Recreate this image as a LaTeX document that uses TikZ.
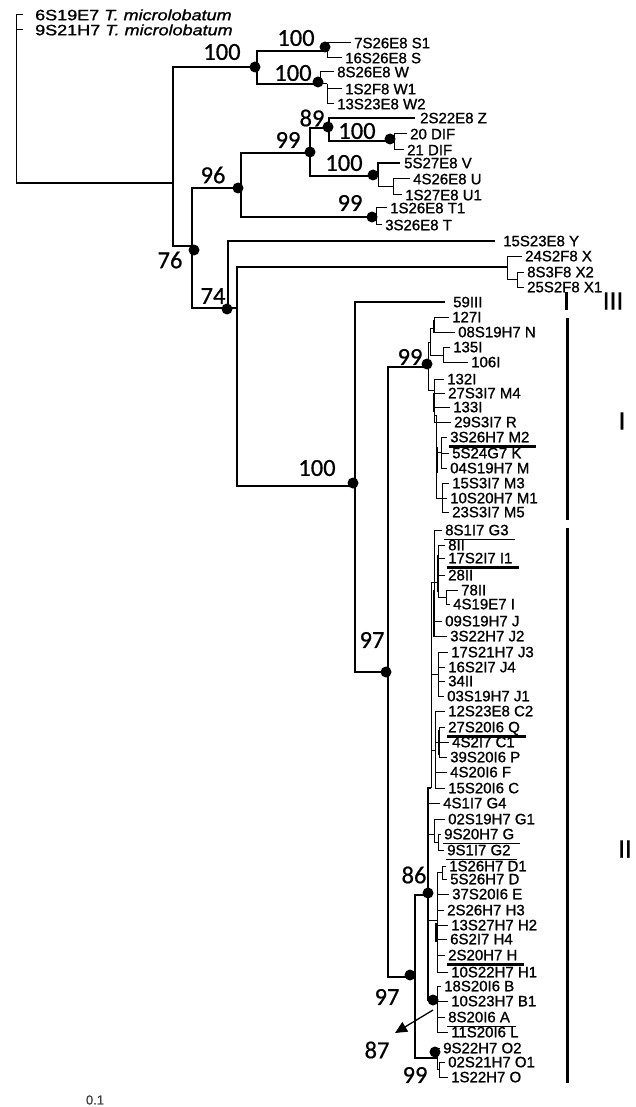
\documentclass[tikz,border=0pt]{standalone}
\usepackage{fontspec}
\setmainfont{Liberation Sans}
\newfontfamily\lffont[FakeBold=1.1]{Liberation Sans}
\newfontfamily\bsfont[FakeBold=0.6]{Carlito}
\usetikzlibrary{arrows.meta}
\newcommand\tkto[2]{\draw[tk] (#1) |- ([xshift=-3pt]#2.west);}
\newcommand\lfn[4]{\node[lf] (#1) at (#2,#3) {#4};}
\newcommand\ulin[2][ul]{\draw[#1] ([xshift=-1pt,yshift=-4pt]#2.south west) -- ([xshift=6pt,yshift=-4pt]#2.south east);}
\begin{document}
\begin{tikzpicture}[x=1pt,y=-1pt,
  br/.style={line width=1.5pt},
  tk/.style={line width=1pt},
  thk/.style={line width=2.4pt},
  dotn/.style={circle,fill=black,inner sep=0pt,minimum size=11pt},
  lf/.style={anchor=west,inner sep=0pt,text height=10.5pt,text depth=0pt,font=\lffont\fontsize{15}{15}\selectfont},
  bsl/.style={inner sep=0pt,font=\bsfont\fontsize{24.5}{24.5}\selectfont},
  cll/.style={inner sep=0pt,font=\bsfont\fontsize{27}{27}\selectfont},
  ul/.style={line width=1.5pt},
  ulk/.style={line width=2.3pt},
  ulf/.style={line width=1.1pt},
  bar/.style={line width=3pt},
]
\useasboundingbox (0,0) rectangle (636,1107);

% ---------- leaf labels ----------
\lfn{og1}{35}{15}{\scalebox{1.2}[1]{6S19E7 \textit{T. microlobatum}}}
\lfn{og2}{35}{30}{\scalebox{1.2}[1]{9S21H7 \textit{T. microlobatum}}}
\lfn{S1}{354}{43}{7S26E8 S1}
\lfn{S}{345}{58}{16S26E8 S}
\lfn{W}{337}{72}{8S26E8 W}
\lfn{W1}{345}{89}{1S2F8 W1}
\lfn{W2}{337}{104}{13S23E8 W2}
\lfn{Z}{420}{118}{2S22E8 Z}
\lfn{D20}{410}{134}{20 DIF}
\lfn{D21}{407}{150}{21 DIF}
\lfn{V}{404}{163}{5S27E8 V}
\lfn{U}{413}{179}{4S26E8 U}
\lfn{U1}{405}{195}{1S27E8 U1}
\lfn{T1}{390}{208}{1S26E8 T1}
\lfn{T}{385}{225}{3S26E8 T}
\lfn{Y}{503}{241}{15S23E8 Y}
\lfn{X}{525}{256}{24S2F8 X}
\lfn{X2}{527}{272}{8S3F8 X2}
\lfn{X1}{527}{287}{25S2F8 X1}
\lfn{L59}{453}{302}{59III}
\lfn{I127}{452}{317}{127I}
\lfn{N}{458}{332}{08S19H7 N}
\lfn{I135}{453}{347}{135I}
\lfn{I106}{471}{362}{106I}
\lfn{I132}{447}{379}{132I}
\lfn{M4}{448}{393}{27S3I7 M4}
\lfn{I133}{453}{407}{133I}
\lfn{R}{454}{422}{29S3I7 R}
\lfn{M2}{450}{437}{3S26H7 M2}
\lfn{K}{452}{453}{5S24G7 K}
\lfn{M}{450}{468}{04S19H7 M}
\lfn{M3}{452}{483}{15S3I7 M3}
\lfn{M1}{450}{498}{10S20H7 M1}
\lfn{M5}{452}{512}{23S3I7 M5}
\lfn{G3}{445}{530}{8S1I7 G3}
\lfn{II8}{448}{545}{8II}
\lfn{I1}{448}{558}{17S2I7 I1}
\lfn{II28}{448}{575}{28II}
\lfn{II78}{461}{590}{78II}
\lfn{Ii}{453}{604}{4S19E7 I}
\lfn{J}{445}{621}{09S19H7 J}
\lfn{J2}{450}{636}{3S22H7 J2}
\lfn{J3}{451}{652}{17S21H7 J3}
\lfn{J4}{448}{667}{16S2I7 J4}
\lfn{II34}{448}{681}{34II}
\lfn{J1}{447}{696}{03S19H7 J1}
\lfn{C2}{448}{711}{12S23E8 C2}
\lfn{Q}{448}{727}{27S20I6 Q}
\lfn{C1}{452}{742}{4S2I7 C1}
\lfn{P}{450}{757}{39S20I6 P}
\lfn{F}{450}{772}{4S20I6 F}
\lfn{C}{448}{788}{15S20I6 C}
\lfn{G4}{443}{803}{4S1I7 G4}
\lfn{G1}{448}{819}{02S19H7 G1}
\lfn{G}{444}{834}{9S20H7 G}
\lfn{G2}{447}{850}{9S1I7 G2}
\lfn{D1}{449}{866}{1S26H7 D1}
\lfn{D}{450}{879}{5S26H7 D}
\lfn{E}{452}{894}{37S20I6 E}
\lfn{H3}{447}{910}{2S26H7 H3}
\lfn{H2}{451}{925}{13S27H7 H2}
\lfn{H4}{450}{939}{6S2I7 H4}
\lfn{H}{448}{955}{2S20H7 H}
\lfn{H1}{451}{972}{10S22H7 H1}
\lfn{B}{444}{986}{18S20I6 B}
\lfn{B1}{451}{1001}{10S23H7 B1}
\lfn{A}{448}{1017}{8S20I6 A}
\lfn{L}{451}{1032}{11S20I6 L}
\lfn{O2}{443}{1048}{9S22H7 O2}
\lfn{O1}{448}{1062}{02S21H7 O1}
\lfn{O}{451}{1077}{1S22H7 O}

% underlines
\ulin[ulk]{M2}
\ulin{G3}
\ulin[ulk]{I1}
\ulin[ulk]{Q}
\ulin{G}
\ulin[ulf]{G2}
\ulin[ulk]{H}
\ulin[ulf]{A}

% ---------- internal nodes ----------
\coordinate (root) at (16,183);
\coordinate (ing) at (173,183);
\coordinate (nA) at (257,67);
\coordinate (nS) at (327,51);
\coordinate (nW) at (320,84);
\coordinate (nW2) at (327,84);
\coordinate (n76) at (192,246);
\coordinate (n96) at (241,188);
\coordinate (n99a) at (310,153);
\coordinate (n89) at (329,128);
\coordinate (nDIF) at (394,141);
\coordinate (nVU) at (378,176);
\coordinate (nU) at (393,187);
\coordinate (nT) at (376,217);
\coordinate (n74) at (228,308);
\coordinate (n74b) at (237,308);
\coordinate (nX) at (507,267);
\coordinate (nX2) at (517,279);
\coordinate (n100) at (355,486);
\coordinate (n97) at (388,672);
\coordinate (nI) at (428,367);
\coordinate (n97b) at (415,977);
\coordinate (n86) at (428,895);
\coordinate (nO) at (437,1058);
\coordinate (nO2) at (439,1069);
\coordinate (nB) at (437,1000);

% ---------- branches ----------
\draw[tk] ([xshift=-12pt]og1.west) -| (root);
\draw[tk] ([xshift=-12pt]og2.west) -| (root);
\draw[br] (root) -- (ing);
\draw[br] (ing) |- (nA);
\draw[br] (ing) |- (n76);
\draw[br] (nA) |- (nS);
\draw[br] (nA) |- (nW);
\tkto{nS}{S1} \tkto{nS}{S}
\tkto{nW}{W}
\draw[tk] (nW) -- (nW2);
\tkto{nW2}{W1} \tkto{nW2}{W2}
\draw[br] (n76) |- (n96);
\draw[br] (n76) |- (n74);
\draw[br] (n96) |- (n99a);
\draw[br] (n96) |- (nT);
\draw[br] (n99a) |- (n89);
\draw[br] (n99a) |- (nVU);
\draw[br] (n89) |- ([xshift=-5pt]Z.west);
\draw[br] (n89) |- (nDIF);
\tkto{nDIF}{D20} \tkto{nDIF}{D21}
\draw[br] (nVU) |- ([xshift=-4pt]V.west);
\draw[tk] (nVU) |- (nU);
\tkto{nU}{U} \tkto{nU}{U1}
\tkto{nT}{T1} \tkto{nT}{T}
\draw[br] (n74) |- ([xshift=-8pt]Y.west);
\draw[br] (n74) -- (n74b);
\draw[br] (n74b) |- (nX);
\draw[br] (n74b) |- (n100);
\tkto{nX}{X}
\draw[tk] (nX) |- (nX2);
\tkto{nX2}{X2} \tkto{nX2}{X1}
\draw[br] (n100) |- ([xshift=-8pt]L59.west);
\draw[br] (n100) |- (n97);
\draw[br] (n97) |- (nI);
\draw[br] (n97) |- (n97b);
\draw[br] (n97b) |- (n86);
\draw[br] (n97b) |- (nO);

% clade I
\coordinate (nIa) at (430,342);
\coordinate (nIb) at (434,328);
\coordinate (nIc) at (443,355);
\draw[tk] (nI) |- (nIa);
\draw[tk] (nIa) |- (nIb);
\draw[tk] (nIa) |- (nIc);
\tkto{nIb}{I127} \tkto{nIb}{N}
\tkto{nIc}{I135} \tkto{nIc}{I106}
\coordinate (nId) at (434,390);
\draw[tk] (nI) |- (nId);
\tkto{nId}{I132} \tkto{nId}{M4} \tkto{nId}{I133} \tkto{nId}{R}
\coordinate (nIe) at (436,415);
\draw[tk] (nId) |- (nIe);
\coordinate (nIf) at (441,452);
\coordinate (nIg) at (442,498);
\draw[tk] (nIe) |- (nIf);
\draw[tk] (nIe) |- (nIg);
\tkto{nIf}{M2} \tkto{nIf}{K} \tkto{nIf}{M}
\tkto{nIg}{M3} \tkto{nIg}{M1} \tkto{nIg}{M5}
\coordinate (t1a) at (434,320); \coordinate (t1b) at (434,333);
\coordinate (t2a) at (434,393); \coordinate (t2b) at (434,412);
\coordinate (t3a) at (437,447); \coordinate (t3b) at (437,473);
\draw[thk] (t1a) -- (t1b);
\draw[thk] (t2a) -- (t2b);
\draw[thk] (t3a) -- (t3b);

% clade II
\coordinate (cb) at (431,788);
\coordinate (cTop) at (431,582);
\draw[br] (n86) |- (cb);
\draw[tk] (cb) -- (cTop);
\coordinate (g1) at (434,582);
\draw[tk] (cTop) -- (g1);
\tkto{g1}{G3} \tkto{g1}{J} \tkto{g1}{J2}
\coordinate (g2) at (438,582);
\draw[tk] (g1) -- (g2);
\tkto{g2}{II8} \tkto{g2}{I1} \tkto{g2}{II28}
\coordinate (g3) at (446,597);
\draw[tk] (g2) |- (g3);
\tkto{g3}{II78} \tkto{g3}{Ii}
\coordinate (j0) at (431,674);
\coordinate (jj) at (438,674);
\draw[tk] (j0) -- (jj);
\tkto{jj}{J3} \tkto{jj}{J4} \tkto{jj}{II34} \tkto{jj}{J1}
\coordinate (c0) at (431,750);
\coordinate (cc) at (435,750);
\draw[tk] (c0) -- (cc);
\tkto{cc}{C2} \tkto{cc}{F} \tkto{cc}{C}
\coordinate (cq) at (439,742);
\draw[tk] (cc) |- (cq);
\tkto{cq}{Q} \tkto{cq}{C1} \tkto{cq}{P}
\coordinate (g40) at (428,803);
\tkto{g40}{G4}
\coordinate (gg0) at (428,834);
\coordinate (gg) at (434,834);
\draw[tk] (gg0) -- (gg);
\tkto{gg}{G1}
\coordinate (gg2) at (438,842);
\draw[tk] (gg) |- (gg2);
\tkto{gg2}{G} \tkto{gg2}{G2}
\coordinate (dh0) at (428,920);
\coordinate (dh) at (437,920);
\draw[tk] (dh0) -- (dh);
\tkto{dh}{E} \tkto{dh}{H3} \tkto{dh}{H2} \tkto{dh}{H4} \tkto{dh}{H} \tkto{dh}{H1}
\coordinate (dd) at (442,872);
\draw[tk] (dh) |- (dd);
\tkto{dd}{D1} \tkto{dd}{D}
\draw[br] (n86) |- (nB);
\tkto{nB}{B} \tkto{nB}{B1} \tkto{nB}{A} \tkto{nB}{L}
\tkto{nO}{O2}
\draw[tk] (nO) |- (nO2);
\tkto{nO2}{O1} \tkto{nO2}{O}
\coordinate (t4a) at (438,555); \coordinate (t4b) at (438,592);
\coordinate (t5a) at (434,590); \coordinate (t5b) at (434,637);
\coordinate (t6a) at (439,730); \coordinate (t6b) at (439,755);
\coordinate (t7a) at (436,923); \coordinate (t7b) at (436,942);
\draw[thk] (t4a) -- (t4b);
\draw[thk] (t5a) -- (t5b);
\draw[thk] (t6a) -- (t6b);
\draw[thk] (t7a) -- (t7b);

% ---------- node dots ----------
\node[dotn] (dA) at (255,67) {};
\node[dotn] (dS) at (325,47) {};
\node[dotn] (dW) at (318,82) {};
\node[dotn] (d89) at (328,127) {};
\node[dotn] (dDIF) at (390,139) {};
\node[dotn] (d99a) at (310,152) {};
\node[dotn] (dVU) at (373,175) {};
\node[dotn] (d96) at (238,188) {};
\node[dotn] (dT) at (372,217) {};
\node[dotn] (d76) at (194,250) {};
\node[dotn] (d74) at (227,309) {};
\node[dotn] (d100) at (353,483) {};
\node[dotn] (dI) at (427,364) {};
\node[dotn] (d97) at (386,672) {};
\node[dotn] (d86) at (428,893) {};
\node[dotn] (d97b) at (410,975) {};
\node[dotn] (dB) at (433,1000) {};
\node[dotn] (dO) at (435,1052) {};

% ---------- bootstrap values ----------
\node[bsl] (b100a) at (222,52) {100};
\node[bsl] (b100s) at (296,38) {100};
\node[bsl] (b100w) at (293,73) {100};
\node[bsl] (b89) at (312,118) {89};
\node[bsl] (b100d) at (357,131) {100};
\node[bsl] (b99a) at (288,140) {99};
\node[bsl] (b100v) at (344,163) {100};
\node[bsl] (b96) at (213,175) {96};
\node[bsl] (b99t) at (350,203) {99};
\node[bsl] (b76) at (170,260) {76};
\node[bsl] (b74) at (213,296) {74};
\node[bsl] (b100) at (317,468) {100};
\node[bsl] (b99I) at (410,357) {99};
\node[bsl] (b97) at (372,640) {97};
\node[bsl] (b86) at (414,875) {86};
\node[bsl] (b97b) at (387,997) {97};
\node[bsl] (b87) at (377,1050) {87};
\node[bsl] (b99o) at (415,1075) {99};

% arrow to 87
\coordinate (a1) at (433,1010);
\coordinate (a2) at (395,1033);
\draw[line width=1.3pt,-{Triangle[length=12pt,width=11pt]}] (a1) -- (a2);

% ---------- clade bars ----------
\coordinate (k3a) at (566,292); \coordinate (k3b) at (566,310);
\coordinate (k1a) at (567,318); \coordinate (k1b) at (567,520);
\coordinate (k2a) at (567,528); \coordinate (k2b) at (567,1083);
\draw[bar] (k3a) -- (k3b);
\draw[bar] (k1a) -- (k1b);
\draw[bar] (k2a) -- (k2b);
\node[cll] (cIII) at (613,301) {III};
\node[cll] (cI) at (622,421) {I};
\node[cll] (cII) at (625,849) {II};

% scale
\node[inner sep=0pt,font=\lffont\fontsize{13}{13}\selectfont,text=black!75] (sc) at (95,1100) {0.1};
\end{tikzpicture}
\end{document}
